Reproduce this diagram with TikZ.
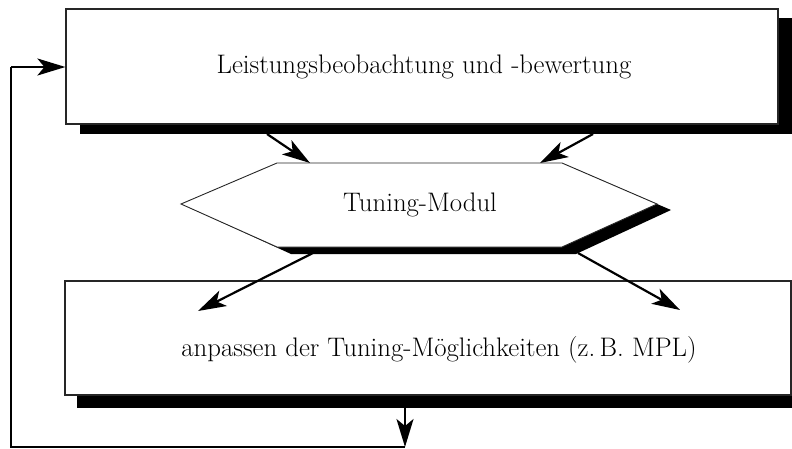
\documentclass[tikz,border=0pt]{standalone}
\usetikzlibrary{arrows.meta,calc}
\begin{document}
\begin{tikzpicture}[x=1pt,y=-1pt,
  every node/.style={font=\fontsize{26.8}{32}\selectfont},
  box/.style={draw=black!85,line width=1.2pt,fill=white,rectangle,inner sep=0pt},
  flow/.style={line width=2.2pt,-{Stealth[length=28pt,width=17pt,inset=7pt]}},
  loop/.style={line width=2.2pt}]
\useasboundingbox (0,0) rectangle (792,448);

% drop shadows
\fill[black] (80,18) rectangle (792,134);
\fill[black] (77,293) rectangle (803,408);
\fill[black] (195,210) -- (291,169) -- (576,169) -- (671,210) -- (576,254) -- (291,254) -- cycle;

% boxes
\node[box,minimum width=712pt,minimum height=115pt] (top) at (422,66.5) {};
\node (toplabel) at (424,67) {Leistungsbeobachtung und -bewertung};
\draw[draw=black!85,line width=0.9pt,fill=white] (181,204) -- (277,163) -- (562,163) -- (657,204) -- (562,247) -- (277,247) -- cycle;
\node (tm) at (420,205) {Tuning-Modul};
\node[box,minimum width=726pt,minimum height=114pt] (bot) at (428,338) {};
\node (botlabel) at (439,350) {anpassen der Tuning-Möglichkeiten (z.\,B. MPL)};

% connector end points
\coordinate (t1) at (267,134);
\coordinate (t2) at (593,134);
\coordinate (h1) at (310,163);
\coordinate (h2) at (540,163);
\coordinate (h3) at (313,253);
\coordinate (h4) at (578,253);
\coordinate (b1) at (198,311);
\coordinate (b2) at (680,310);
\coordinate (o1) at (405,407);
\coordinate (o2) at (405,447);
\coordinate (o3) at (11,447);
\coordinate (o4) at (11,67);

% connectors
\draw[flow] (t1) -- (h1);
\draw[flow] (t2) -- (h2);
\draw[flow] (h3) -- (b1);
\draw[flow] (h4) -- (b2);
\draw[flow] (o1) -- (o2);
\draw[loop] (o2) -- (o3) -- (o4);
\draw[flow] (o4) -- (o4 -| top.west);
\end{tikzpicture}
\end{document}
